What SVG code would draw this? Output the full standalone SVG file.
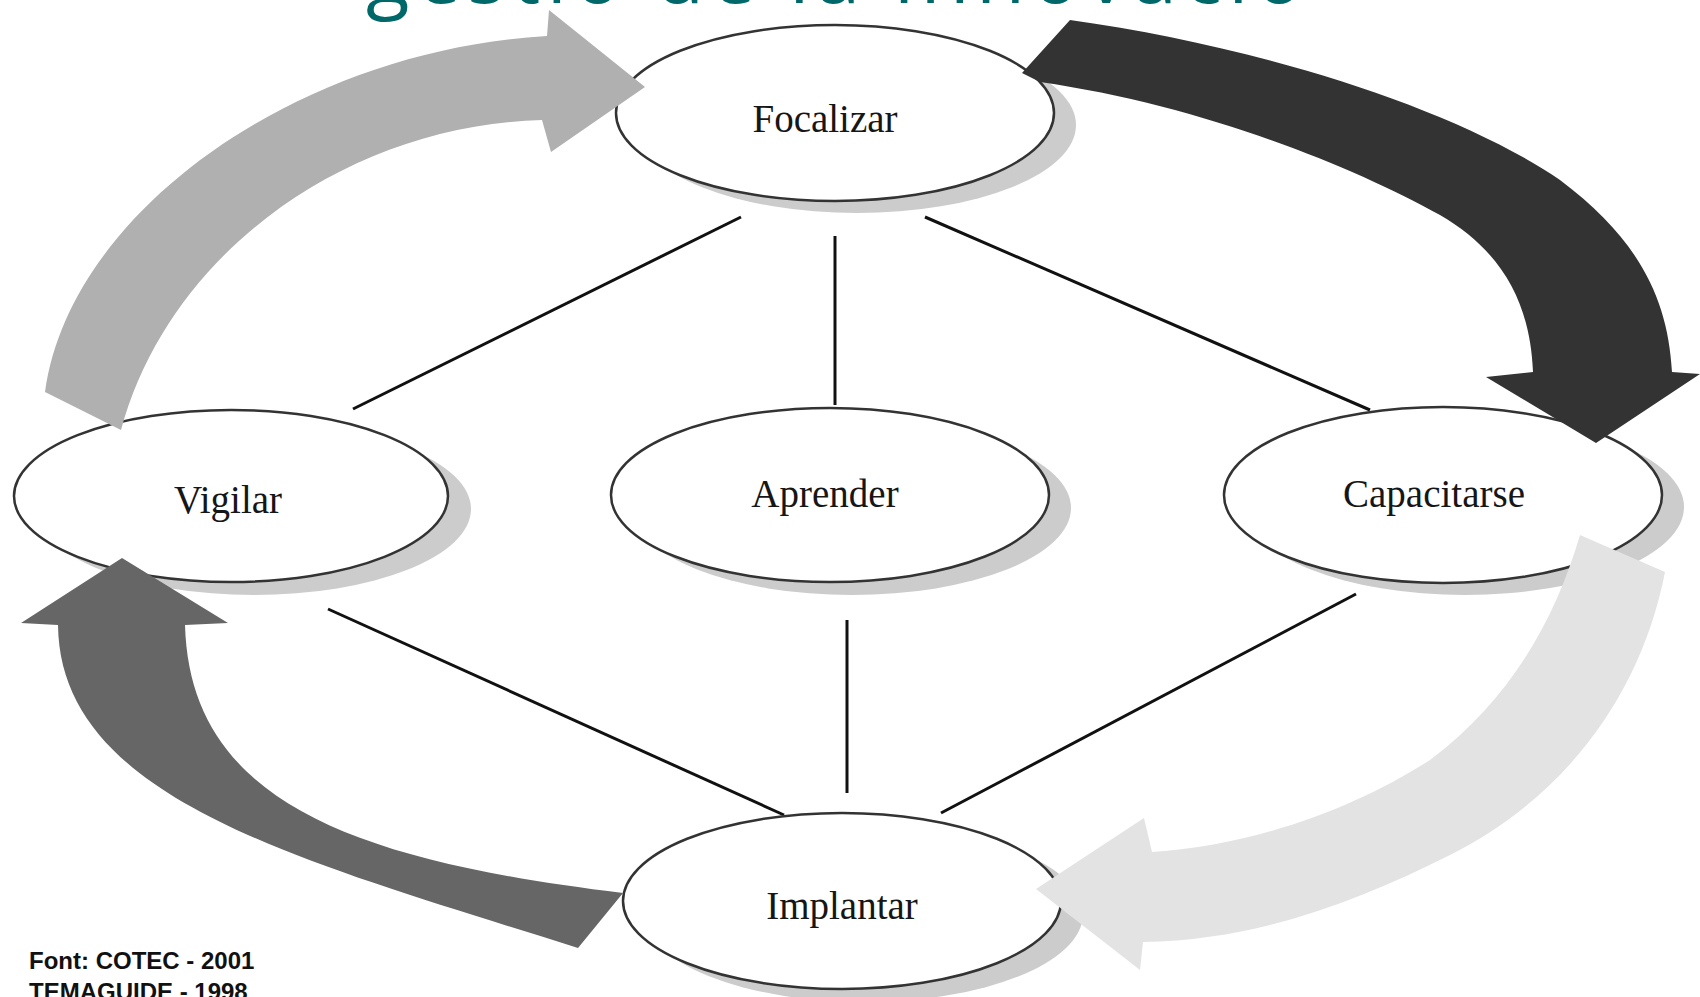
<svg xmlns="http://www.w3.org/2000/svg" width="1700" height="997" viewBox="0 0 1700 997">
<style>
.shadow{fill:#cccccc;stroke:none}
.node{fill:#ffffff;stroke:#333333;stroke-width:2.5}
.label{font-family:"Liberation Serif","Times New Roman",serif;font-size:39px;fill:#161616;text-anchor:middle}
.link{stroke:#111111;stroke-width:3;fill:none}
.title{font-family:"Open Sans","DejaVu Sans",sans-serif;font-size:80px;fill:#006868}
.src{font-family:"Liberation Sans",Arial,sans-serif;font-size:24px;font-weight:bold;fill:#111111}
</style>
<rect width="1700" height="997" fill="#ffffff"/>
<text class="title" x="366" y="3" textLength="937" lengthAdjust="spacing">gestió de la innovació</text>

<g id="connectors">
<line class="link" x1="741" y1="217" x2="353" y2="409"/>
<line class="link" x1="835" y1="236" x2="835" y2="405"/>
<line class="link" x1="925" y1="217" x2="1370" y2="410"/>
<line class="link" x1="328" y1="609" x2="784" y2="815"/>
<line class="link" x1="847" y1="620" x2="847" y2="793"/>
<line class="link" x1="1356" y1="594" x2="941" y2="813"/>
</g>

<g id="node-focalizar">
<ellipse class="shadow" cx="857" cy="125" rx="219" ry="88"/>
<ellipse class="node" cx="835" cy="113" rx="219" ry="88"/>
<text class="label" x="825" y="132">Focalizar</text>
</g>
<g id="node-vigilar">
<ellipse class="shadow" cx="254" cy="509" rx="217" ry="86"/>
<ellipse class="node" cx="231" cy="496" rx="217" ry="86"/>
<text class="label" x="228" y="513">Vigilar</text>
</g>
<g id="node-aprender">
<ellipse class="shadow" cx="852" cy="508" rx="219" ry="87"/>
<ellipse class="node" cx="830" cy="495" rx="219" ry="87"/>
<text class="label" x="825" y="507">Aprender</text>
</g>
<g id="node-capacitarse">
<ellipse class="shadow" cx="1465" cy="507" rx="219" ry="88"/>
<ellipse class="node" cx="1443" cy="495" rx="219" ry="88"/>
<text class="label" x="1434" y="507">Capacitarse</text>
</g>
<g id="node-implantar">
<ellipse class="shadow" cx="864" cy="914" rx="219" ry="88"/>
<ellipse class="node" cx="842" cy="901" rx="219" ry="88"/>
<text class="label" x="842" y="919">Implantar</text>
</g>

<g id="cycle-arrows">
<path id="arrow-vigilar-focalizar" fill="#b0b0b0" d="M45,392 C70,210 300,50 547,36 L549,10 L645,87 L551,152 L542,120 C350,125 170,250 121,430 Z"/>
<path id="arrow-focalizar-capacitarse" fill="#333333" d="M1070,20 C1250,45 1450,105 1560,180 C1640,240 1668,300 1672,372 L1700,374 L1596,443 L1486,377 L1533,372 C1530,300 1500,250 1440,215 C1350,165 1200,105 1040,82 L1022,73 Z"/>
<path id="arrow-capacitarse-implantar" fill="#e3e3e3" d="M1665,572 C1640,700 1560,800 1450,855 C1360,900 1260,940 1143,942 L1140,970 L1036,889 L1144,818 L1152,852 C1260,845 1360,805 1430,760 C1510,700 1555,620 1580,535 Z"/>
<path id="arrow-implantar-vigilar" fill="#666666" d="M58,625 C60,800 300,860 578,948 L623,893 C350,860 190,800 185,625 L228,623 L122,558 L21,623 Z"/>
</g>

<text class="src" x="29" y="969">Font: COTEC - 2001</text>
<text class="src" x="29" y="1000">TEMAGUIDE - 1998</text>
</svg>
